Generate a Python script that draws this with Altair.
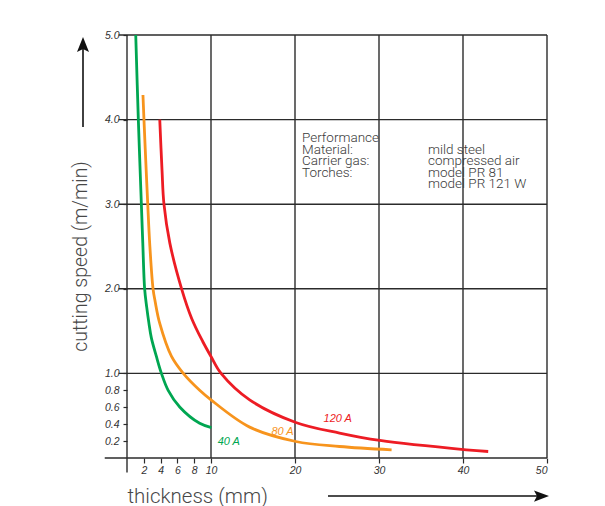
import altair as alt
import pandas as pd

series_names = ["40 A", "80 A", "120 A"]
series_colors = ["#00a651", "#f7941d", "#ed1c24"]

t_40 = [1.04, 1.35, 1.71, 1.88, 2.1, 2.35, 2.6, 2.9, 3.5, 4.1, 4.9, 6.3, 8.65, 10.05]
v_40 = [5.0, 4.0, 3.0, 2.54, 2.0, 1.78, 1.6, 1.42, 1.2, 1.0, 0.8, 0.6, 0.41, 0.36]

t_80 = [1.9, 2.02, 2.23, 2.47, 2.7, 3.1, 3.35, 3.9, 5.3, 6.7, 8.65, 10.0, 14.6, 20.1, 25.3, 31.5]
v_80 = [4.29, 4.0, 3.52, 3.0, 2.54, 2.0, 1.85, 1.59, 1.2, 1.0, 0.8, 0.687, 0.365, 0.195, 0.136, 0.097]

t_120 = [3.9, 4.17, 4.4, 5.1, 6.5, 7.7, 9.0, 10.0, 11.2, 14.6, 20.1, 25.3, 30.1, 40.4, 43.0]
v_120 = [4.0, 3.4, 3.0, 2.54, 2.0, 1.65, 1.38, 1.2, 1.0, 0.687, 0.42, 0.294, 0.207, 0.097, 0.077]

label_t = [10.8, 17.2, 23.4]
label_v = [0.156, 0.274, 0.42]

x_ticks = [2, 4, 6, 8, 10, 20, 30, 40, 50]
y_ticks = [0.2, 0.4, 0.6, 0.8, 1, 2, 3, 4, 5]
x_grid = [0, 10, 20, 30, 40, 50]
y_grid = [0, 1, 2, 3, 4, 5]

info_left = ["Performance", "Material:", "Carrier gas:", "Torches:"]
info_right = ["mild steel", "compressed air", "model PR 81", "model PR 121 W"]

rows = []
for name, ts, vs in zip(series_names, [t_40, t_80, t_120], [v_40, v_80, v_120]):
    for t, v in zip(ts, vs):
        rows.append({"series": name, "t": t, "v": v})
curves_df = pd.DataFrame(rows)
labels_df = pd.DataFrame({"series": series_names, "t": label_t, "v": label_v})

xs = alt.Scale(domain=[0, 50], nice=False, zero=False)
ys = alt.Scale(domain=[0, 5], nice=False, zero=False)
cs = alt.Scale(domain=series_names, range=series_colors)

grid_col = "#2b2b2b"

x_axis = alt.Axis(
    values=x_ticks, format="d", domain=False, grid=False, tickSize=5, tickColor=grid_col,
    tickWidth=1.2, labelFont="Liberation Sans", labelFontStyle="italic", labelFontSize=10.5,
    labelColor="#333", labelPadding=2,
    title="thickness (mm)", titleFont="Roboto", titleFontWeight=300, titleFontSize=20.5,
    titleColor="#474747", titleX=0, titleY=38, titleAlign="left", titleBaseline="middle")
y_axis = alt.Axis(
    values=y_ticks, format=".1f", domain=False, grid=False, tickSize=4, tickColor=grid_col,
    tickWidth=1.2, labelFont="Liberation Sans", labelFontStyle="italic", labelFontSize=10.5,
    labelColor="#333", labelPadding=4,
    title="cutting speed (m/min)", titleFont="Roboto", titleFontWeight=300, titleFontSize=19.5,
    titleColor="#474747", titleX=-47, titleY=221, titleAngle=270, titleAlign="center",
    titleBaseline="middle")

vgrid_df = pd.DataFrame({"t": x_grid, "v": [-0.17 if g == 0 else 0 for g in x_grid],
                         "v2": [5] * len(x_grid)})
hgrid_df = pd.DataFrame({"v": y_grid, "t": [-2.65 if g == 0 else -1.0 for g in y_grid],
                         "t2": [50] * len(y_grid)})

vgrid = alt.Chart(vgrid_df).mark_rule(color=grid_col, strokeWidth=1.4).encode(
    x=alt.X("t:Q", scale=xs, axis=x_axis), y=alt.Y("v:Q", scale=ys, axis=y_axis), y2="v2:Q")
hgrid = alt.Chart(hgrid_df).mark_rule(color=grid_col, strokeWidth=1.4).encode(
    y=alt.Y("v:Q", scale=ys, axis=y_axis), x=alt.X("t:Q", scale=xs, axis=x_axis), x2="t2:Q")

curves = alt.Chart(curves_df).mark_line(strokeWidth=2.8, interpolate="catmull-rom").encode(
    x=alt.X("t:Q", scale=xs, axis=x_axis),
    y=alt.Y("v:Q", scale=ys, axis=y_axis),
    color=alt.Color("series:N", scale=cs, legend=None),
    detail="series:N",
)

labels = alt.Chart(labels_df).mark_text(
    font="Liberation Sans", fontStyle="italic", fontSize=11, align="left", baseline="alphabetic"
).encode(
    x=alt.X("t:Q", scale=xs, axis=x_axis), y=alt.Y("v:Q", scale=ys, axis=y_axis),
    text="series:N", color=alt.Color("series:N", scale=cs, legend=None))

one = alt.Data(values=[{"k": 1}])
info_l = alt.Chart(one).mark_text(
    text=info_left, font="Roboto", fontWeight=300, fontSize=13.5, lineHeight=11.6,
    align="left", baseline="alphabetic", color="#3a3a3a"
).encode(x=alt.value(175), y=alt.value(107))
info_r = alt.Chart(one).mark_text(
    text=info_right, font="Roboto", fontWeight=300, fontSize=13.5, lineHeight=11.6,
    align="left", baseline="alphabetic", color="#3a3a3a"
).encode(x=alt.value(301), y=alt.value(118.6))

arrow_col = "#111"
v_arrow = alt.Chart(one).mark_rule(color=arrow_col, strokeWidth=1.6).encode(
    x=alt.value(-44), y=alt.value(92), y2=alt.value(12))
v_head = alt.Chart(one).mark_point(
    shape="M0,-1L0.8,1L0,0.6L-0.8,1Z", filled=True, color=arrow_col, opacity=1, size=225
).encode(x=alt.value(-44), y=alt.value(9.5))
h_arrow = alt.Chart(one).mark_rule(color=arrow_col, strokeWidth=1.6).encode(
    x=alt.value(201), x2=alt.value(413), y=alt.value(461))
h_head = alt.Chart(one).mark_point(
    shape="M1,0L-1,0.75L-0.6,0L-1,-0.75Z", filled=True, color=arrow_col, opacity=1, size=225
).encode(x=alt.value(414.5), y=alt.value(461))

chart = alt.layer(
    vgrid, hgrid, curves, labels, info_l, info_r, v_arrow, v_head, h_arrow, h_head
).properties(
    width=420, height=423, background="white",
    autosize=alt.AutoSizeParams(type="none"),
    padding={"left": 119, "top": 27, "right": 50, "bottom": 48},
).configure_view(stroke=None)

chart.save("out.html", embed_options={"renderer": "svg", "actions": False})
